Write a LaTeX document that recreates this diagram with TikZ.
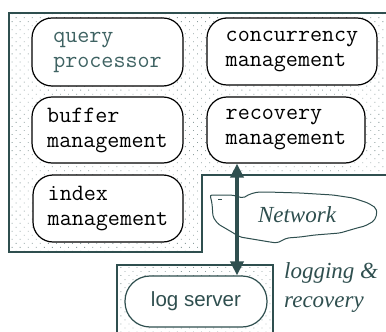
\documentclass[tikz,border=0pt]{standalone}
\usepackage{fontspec}
\newfontfamily\lsfont{Liberation Sans}
\newfontfamily\labfont{Liberation Serif}
\usetikzlibrary{patterns.meta,arrows.meta}
\definecolor{slate}{HTML}{2F4F4F}
\definecolor{qtext}{HTML}{3F6363}
\tikzset{
  mbox/.style={draw=black, line width=1.2pt, rounded corners=20pt, fill=white,
    align=left, inner sep=0pt, font=\ttfamily\fontsize{23.4}{25}\selectfont},
  dotted region/.style={pattern={Dots[distance=5.7pt,radius=0.6pt,angle=45]}, pattern color=slate!55},
  border/.style={draw=slate, line width=1.4pt},
  lab/.style={text=slate, font=\labfont\itshape\fontsize{23}{29}\selectfont, align=left, inner sep=0pt},
}
\begin{document}
\begin{tikzpicture}[x=1pt,y=-1pt]
\useasboundingbox (0,0) rectangle (386,332);
% upper dotted region
\fill[dotted region] (9,13)--(386,13)--(386,175)--(202,175)--(202,252)--(9,252)--cycle;
\draw[border] (386,13)--(9,13)--(9,252)--(202,252)--(202,175)--(386,175);
% log server region
\fill[dotted region] (117,265) rectangle (273,332);
\draw[border] (117,332)--(117,265)--(273,265)--(273,332);
% module boxes
\node[mbox, minimum width=151pt, minimum height=68pt, text=qtext] (qp) at (107.5,52) {query\\processor};
\node[mbox, minimum width=151pt, minimum height=66pt] (bm) at (107.5,130) {buffer\\management};
\node[mbox, minimum width=150pt, minimum height=67pt] (im) at (108,208.5) {index\\management};
\node[mbox, minimum width=170pt, minimum height=67pt] (cm) at (292,51.5) {concurrency\\management};
\node[mbox, minimum width=158pt, minimum height=66pt] (rm) at (286,130) {recovery\\management};
% log server
\node[draw=slate, line width=1.2pt, rounded corners=25pt, fill=white, minimum width=142pt, minimum height=51pt,
  text=slate, font=\lsfont\fontsize{20.5}{24}\selectfont, inner sep=0pt] (ls) at (196,301.5) {log server};
% network cloud
\draw[slate, line width=1pt, fill=white, rounded corners=2pt]
  (210,195)--(232,195)--(243,198)--(250,194)--(258,192)--(267,192)--(300,193)--(333,195)
  --(353,198)--(368,203)--(376,208)--(377,214)--(374,221)--(365,226)--(357,228)--(340,233)
  --(315,235)--(300,237)--(287,238)--(277,243)--(270,242)--(240,237)--(230,231)--(218,224)
  --(213,217)--(212,203)--cycle;
\draw[slate, line width=1pt] (218,199)--(222,199);
\node[lab] (net) at (297,215) {Network};
% arrow
\draw[slate, line width=4pt, {Triangle[length=14pt,width=13pt]}-{Triangle[length=14pt,width=13pt]}]
  ([xshift=-49pt]rm.south) -- ([xshift=41pt]ls.north);
% label
\node[lab, anchor=west] (lr) at (284,287.5) {logging \&\\recovery};
\end{tikzpicture}
\end{document}
